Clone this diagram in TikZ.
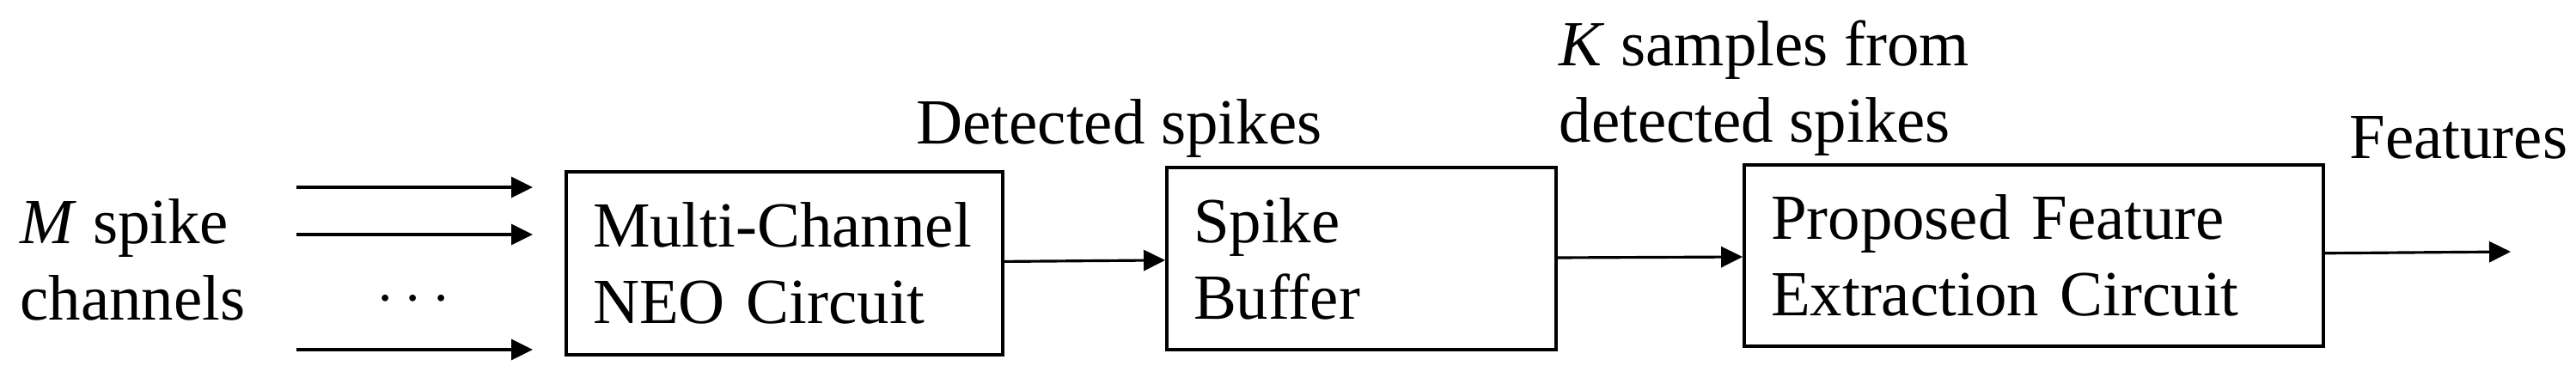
\documentclass[tikz,border=0pt]{standalone}
\usepackage{fontspec}
\setmainfont{Liberation Serif}
\usepackage{tikz}
\usetikzlibrary{arrows.meta, positioning, calc}

\begin{document}
\begin{tikzpicture}[>={Triangle[length=0.25cm, width=0.24cm]}, line width=0.9pt,
        font=\fontsize{21.3pt}{25.3pt}\selectfont,
        blk/.style={draw, line width=1.1pt, align=left, inner xsep=0.31cm, inner ysep=0pt},
        lbl/.style={align=left, inner sep=0pt}]
        \useasboundingbox (0,0) rectangle (29.98,4.46);

        \node (neo) [blk, minimum width=5.08cm, minimum height=2.13cm, text width=4.46cm] at (9.13,1.395) {Multi-Channel\\NEO Circuit};
        \node (buf) [blk, minimum width=4.53cm, minimum height=2.12cm, text width=3.91cm] at (15.845,1.45) {Spike\\Buffer};
        \node (fex) [blk, minimum width=6.74cm, minimum height=2.11cm, text width=6.12cm] at (23.67,1.485) {Proposed Feature\\Extraction Circuit};

        % base anchor of a two-line label sits on its last line
        \node (chan) [lbl, anchor=base west] at (0.22,0.74) {\textit{M} spike\\channels};
        \node (det) [lbl, anchor=base west] at (10.65,2.79) {Detected spikes};
        \node (ksmp) [lbl, anchor=base west] at (18.13,2.81) {\textit{K} samples from\\detected spikes};
        \node (feat) [lbl, anchor=base west] at (27.33,2.62) {Features};
        \node (dots) [inner sep=0pt, anchor=base] at (4.81,0.81) {$\cdots$};

        \coordinate (in1) at (3.45,2.28);
        \coordinate (in2) at (3.45,1.73);
        \coordinate (in3) at (3.45,0.39);
        \coordinate (tip1) at (6.20,2.28);
        \coordinate (tip2) at (6.20,1.73);
        \coordinate (tip3) at (6.20,0.39);
        \coordinate (out) at (29.22,1.53);

        \draw[->] (in1) -- (tip1);
        \draw[->] (in2) -- (tip2);
        \draw[->] (in3) -- (tip3);
        \draw[->] (neo) -- (buf);
        \draw[->] (buf) -- (fex);
        \draw[->] (fex) -- (out);
    \end{tikzpicture}
\end{document}
